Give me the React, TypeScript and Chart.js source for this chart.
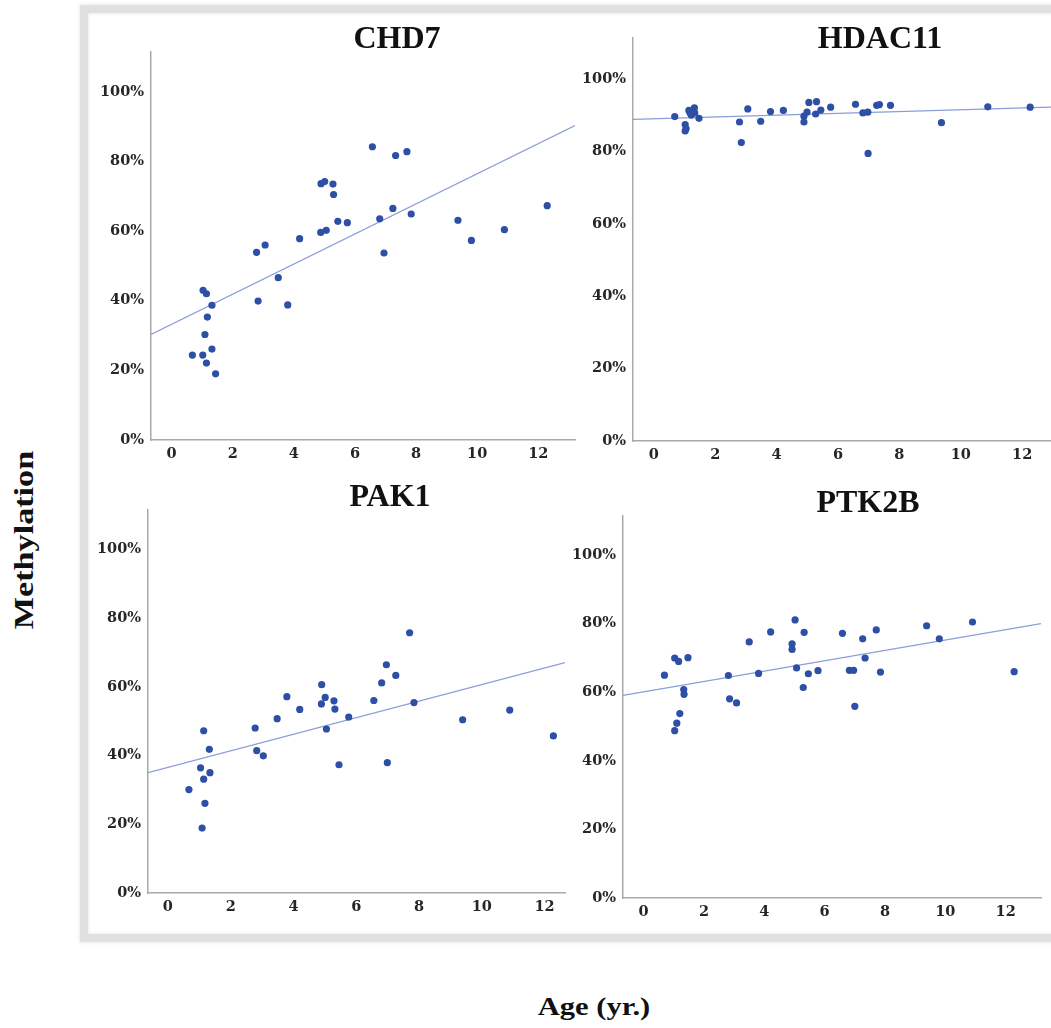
import React, { useEffect, useRef } from "react";
import { Chart, registerables } from "chart.js";

Chart.register(...registerables);

// ---------- data ----------
const xTicks = [0, 2, 4, 6, 8, 10, 12];
const yTicks = [0, 20, 40, 60, 80, 100];

const chd7Age = [0.68, 1.02, 1.03, 1.14, 1.09, 1.17, 1.14, 1.32, 1.32, 1.44, 2.78, 2.83, 3.06, 3.49, 3.8, 4.19, 4.89, 5.01, 5.28, 5.3, 4.88, 5.06, 5.44, 5.75, 6.57, 6.81, 6.95, 7.24, 7.33, 7.7, 7.84, 9.37, 9.81, 10.89, 12.29];
const chd7Meth = [24.4, 24.4, 43.0, 42.0, 30.3, 35.3, 22.1, 26.1, 38.7, 19.0, 53.9, 39.9, 56.0, 46.6, 38.8, 57.8, 73.6, 74.2, 73.5, 70.5, 59.6, 60.2, 62.8, 62.4, 84.2, 63.5, 53.7, 66.5, 81.7, 82.8, 64.9, 63.1, 57.3, 60.4, 67.3];
const chd7TrendX = [-0.674, 13.2];
const chd7TrendY = [30.3, 90.3];

const hdac11Age = [0.68, 1.02, 1.05, 1.02, 1.14, 1.18, 1.22, 1.32, 1.33, 1.47, 2.79, 2.85, 3.06, 3.48, 3.8, 4.22, 4.89, 4.89, 4.99, 5.05, 5.3, 5.27, 5.44, 5.76, 6.57, 6.81, 6.97, 6.98, 7.26, 7.35, 7.71, 9.37, 10.88, 12.26];
const hdac11Meth = [89.7, 87.5, 86.4, 85.7, 91.4, 90.7, 90.1, 92.1, 90.7, 89.2, 88.2, 82.5, 91.8, 88.4, 91.1, 91.4, 88.2, 89.8, 90.9, 93.6, 93.8, 90.4, 91.5, 92.3, 93.1, 90.7, 90.9, 79.5, 92.8, 93.0, 92.8, 88.0, 92.4, 92.3];
const hdac11TrendX = [-0.68, 13.2];
const hdac11TrendY = [88.9, 92.4];

const pak1Age = [0.67, 1.04, 1.09, 1.14, 1.14, 1.18, 1.32, 1.34, 2.78, 2.83, 3.04, 3.48, 3.79, 4.2, 4.9, 4.89, 5.01, 5.05, 5.29, 5.32, 5.45, 5.76, 6.56, 6.81, 6.96, 6.99, 7.26, 7.7, 7.84, 9.39, 10.89, 12.28];
const pak1Meth = [30.1, 36.4, 18.9, 47.2, 33.1, 26.1, 41.8, 35.0, 48.0, 41.4, 39.9, 50.7, 57.1, 53.4, 60.6, 55.0, 56.9, 47.7, 55.9, 53.5, 37.3, 51.2, 56.0, 61.1, 66.4, 37.9, 63.3, 75.7, 55.4, 50.4, 53.2, 45.7];
const pak1TrendX = [-0.634, 12.65];
const pak1TrendY = [35.0, 67.0];

const ptk2bAge = [0.69, 1.03, 1.16, 1.47, 1.33, 1.34, 1.2, 1.1, 1.03, 2.81, 2.85, 3.08, 3.5, 3.81, 4.21, 4.92, 4.92, 5.02, 5.07, 5.32, 5.29, 5.46, 5.78, 6.59, 6.82, 6.96, 7.0, 7.26, 7.34, 7.71, 7.85, 9.38, 9.8, 10.9, 12.28];
const ptk2bMeth = [65.0, 70.0, 69.0, 70.1, 60.8, 59.4, 53.8, 51.0, 48.8, 64.9, 58.1, 56.9, 74.7, 65.5, 77.6, 74.1, 72.5, 81.1, 67.1, 77.5, 61.4, 65.4, 66.3, 77.2, 66.4, 66.4, 55.9, 75.6, 70.0, 78.2, 65.9, 79.4, 75.6, 80.5, 66.0];
const ptk2bTrendX = [-0.683, 13.17];
const ptk2bTrendY = [59.1, 80.0];

const yMax = 111.5;

// ---------- layout ----------
const WY = 70;
const HX = 32;
const PAD_TOP = 12;
const PAD_RIGHT = 2;

type Panel = {
  title: string;
  age: number[];
  meth: number[];
  tx: number[];
  ty: number[];
  xMin: number;
  xMax: number;
  plot: { l: number; r: number; t: number; b: number };
  titleAt: { x: number; y: number };
};

const panels: Panel[] = [
  { title: "CHD7", age: chd7Age, meth: chd7Meth, tx: chd7TrendX, ty: chd7TrendY, xMin: -0.674, xMax: 13.2, plot: { l: 151, r: 577, t: 48, b: 440 }, titleAt: { x: 397, y: 37.5 } },
  { title: "HDAC11", age: hdac11Age, meth: hdac11Meth, tx: hdac11TrendX, ty: hdac11TrendY, xMin: -0.68, xMax: 13.2, plot: { l: 633, r: 1061, t: 34, b: 441 }, titleAt: { x: 880, y: 37.5 } },
  { title: "PAK1", age: pak1Age, meth: pak1Meth, tx: pak1TrendX, ty: pak1TrendY, xMin: -0.634, xMax: 12.65, plot: { l: 148, r: 567, t: 506, b: 893 }, titleAt: { x: 390, y: 495.5 } },
  { title: "PTK2B", age: ptk2bAge, meth: ptk2bMeth, tx: ptk2bTrendX, ty: ptk2bTrendY, xMin: -0.683, xMax: 13.17, plot: { l: 623, r: 1043, t: 512, b: 898 }, titleAt: { x: 868, y: 501.5 } },
];

const SERIF = "'Liberation Serif', 'Times New Roman', serif";
const TICK_FONT = "'DejaVu Serif', serif";
const DOT = "#2d4fa6";
const TREND = "#8a9ed8";
const AXIS = "#a9a9a9";

function PanelChart({ p }: { p: Panel }) {
  const ref = useRef<HTMLCanvasElement | null>(null);
  const left = p.plot.l - WY;
  const top = p.plot.t - PAD_TOP;
  const width = p.plot.r - left + PAD_RIGHT;
  const height = p.plot.b - top + HX;

  useEffect(() => {
    if (!ref.current) return;
    const pts = p.age.map((a, i) => ({ x: a, y: p.meth[i] }));
    const trend = p.tx.map((x, i) => ({ x, y: p.ty[i] }));
    const tickFont = { family: TICK_FONT, size: 14.5, weight: "bold" as const };
    const chart = new Chart(ref.current, {
      type: "scatter",
      data: {
        datasets: [
          {
            data: pts,
            backgroundColor: DOT,
            borderColor: DOT,
            pointRadius: 3.6,
            pointBorderWidth: 0,
            order: 1,
          },
          {
            type: "line",
            data: trend,
            borderColor: TREND,
            borderWidth: 1.2,
            pointRadius: 0,
            fill: false,
            order: 2,
          } as any,
        ],
      },
      options: {
        animation: false,
        responsive: false,
        events: [],
        layout: { padding: { top: PAD_TOP, right: PAD_RIGHT, left: 0, bottom: 0 } },
        plugins: { legend: { display: false }, tooltip: { enabled: false }, title: { display: false } },
        scales: {
          x: {
            type: "linear",
            min: p.xMin,
            max: p.xMax,
            grid: { display: false, drawTicks: false },
            border: { display: true, color: AXIS, width: 1.5 },
            ticks: { font: tickFont, color: "#262626", padding: 6, callback: (v: any) => String(v) },
            afterBuildTicks: (s: any) => {
              s.ticks = xTicks.map((v) => ({ value: v }));
            },
            afterFit: (s: any) => {
              s.height = HX;
            },
          },
          y: {
            type: "linear",
            min: 0,
            max: yMax,
            grid: { display: false, drawTicks: false },
            border: { display: true, color: AXIS, width: 1.5 },
            ticks: { font: tickFont, color: "#262626", padding: 7, callback: (v: any) => v + "%" },
            afterBuildTicks: (s: any) => {
              s.ticks = yTicks.map((v) => ({ value: v }));
            },
            afterFit: (s: any) => {
              s.width = WY;
            },
          },
        },
      },
    });
    return () => chart.destroy();
  }, [p]);

  return (
    <canvas
      ref={ref}
      width={width}
      height={height}
      style={{ position: "absolute", left, top, width, height }}
    />
  );
}

export default function App() {
  return (
    <div
      style={{
        position: "fixed",
        left: 0,
        top: 0,
        width: 1051,
        height: 1028,
        overflow: "hidden",
        background: "#ffffff",
      }}
    >
      <div
        style={{
          position: "absolute",
          left: 80,
          top: 5,
          width: 1100,
          height: 921,
          border: "8px solid #e0e0e0",
          boxShadow: "0 0 3px 1px #ececec, inset 0 0 3px 1px #ececec",
          background: "#ffffff",
        }}
      />
      {panels.map((p) => (
        <PanelChart key={p.title} p={p} />
      ))}
      {panels.map((p) => (
        <div
          key={"t" + p.title}
          style={{
            position: "absolute",
            left: p.titleAt.x,
            top: p.titleAt.y - 16.2,
            transform: "translateX(-50%)",
            font: `bold 32px ${SERIF}`,
            lineHeight: "32px",
            color: "#111",
            whiteSpace: "nowrap",
          }}
        >
          {p.title}
        </div>
      ))}
      <div
        style={{
          position: "absolute",
          left: 24,
          top: 540,
          transform: "translate(-50%, -50%) rotate(-90deg) scaleX(1.22)",
          font: `bold 28px ${SERIF}`,
          lineHeight: "28px",
          color: "#111",
          whiteSpace: "nowrap",
        }}
      >
        Methylation
      </div>
      <div
        style={{
          position: "absolute",
          left: 594,
          top: 1006,
          transform: "translate(-50%, -50%) scaleX(1.22)",
          font: `bold 25px ${SERIF}`,
          lineHeight: "25px",
          color: "#111",
          whiteSpace: "nowrap",
        }}
      >
        Age (yr.)
      </div>
    </div>
  );
}
